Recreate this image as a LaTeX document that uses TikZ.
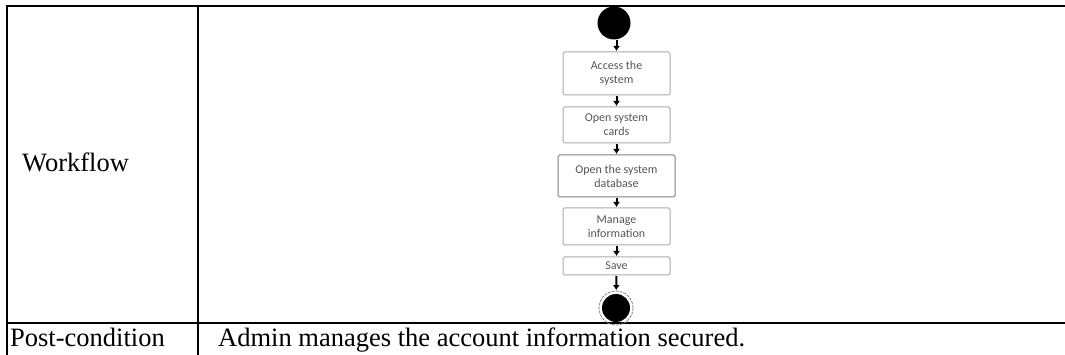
\documentclass[tikz,border=0pt]{standalone}
\usepackage{fontspec}
\setmainfont{Liberation Serif}
\newfontfamily\boxfont{Carlito}
\usetikzlibrary{arrows.meta}
\definecolor{boxline}{HTML}{AAAAAA}
\definecolor{boxtext}{HTML}{555555}
\begin{document}
\begin{tikzpicture}[x=1pt,y=-1pt,
  rule/.style={line width=2pt,black},
  celltext/.style={anchor=base west,inner sep=0pt,font=\fontsize{26.5}{32}\selectfont},
  actbox/.style={draw=boxline,line width=1pt,rounded corners=1.5pt,
    minimum width=107pt,align=center,inner sep=1pt,text=boxtext,
    font=\boxfont\fontsize{12}{14}\selectfont},
  flow/.style={line width=2pt,black,-{Latex[length=5pt,width=7pt]},
    shorten <=0.5pt,shorten >=0.5pt}]
\useasboundingbox (0,0) rectangle (1065,355);

% table rules
\draw[rule] (1066,6) -- (7,6) -- (7,356);
\draw[rule] (198,6) -- (198,356);
\draw[rule] (7,323) -- (1066,323);

% first column labels
\node[celltext] (wf) at (22,172) {Workflow};
\node[celltext] (pc) at (10,346) {Post-condition};
\node[celltext] (pcv) at (218,346) {Admin manages the account information secured.};

% activity diagram
\node[circle,fill=black,minimum size=33pt,inner sep=0pt] (start) at (614,23) {};
\node[actbox,minimum height=43pt] (a1) at (616.5,73.5) {Access the\\system};
\node[actbox,minimum height=36pt] (a2) at (616.5,125) {Open system\\cards};
\node[actbox,draw=gray,minimum width=117pt,minimum height=42pt] (a3) at (616.5,176) {Open the system\\database};
\node[actbox,minimum height=37pt] (a4) at (616.5,226.5) {Manage\\information};
\node[actbox,minimum height=18pt] (a5) at (616.5,266) {Save};
\node[circle,draw=gray,line width=0.8pt,dashed,dash pattern=on 3pt off 1pt,minimum size=34pt,inner sep=0pt] (endring) at (616,308) {};
\node[circle,fill=black,minimum size=28pt,inner sep=0pt] (end) at (616,308) {};

\draw[flow] (start.south -| a1.north) -- (a1.north);
\draw[flow] (a1) -- (a2);
\draw[flow] (a2) -- (a3);
\draw[flow] (a3) -- (a4);
\draw[flow] (a4) -- (a5);
\draw[flow] (a5) -- (endring);
\end{tikzpicture}
\end{document}
